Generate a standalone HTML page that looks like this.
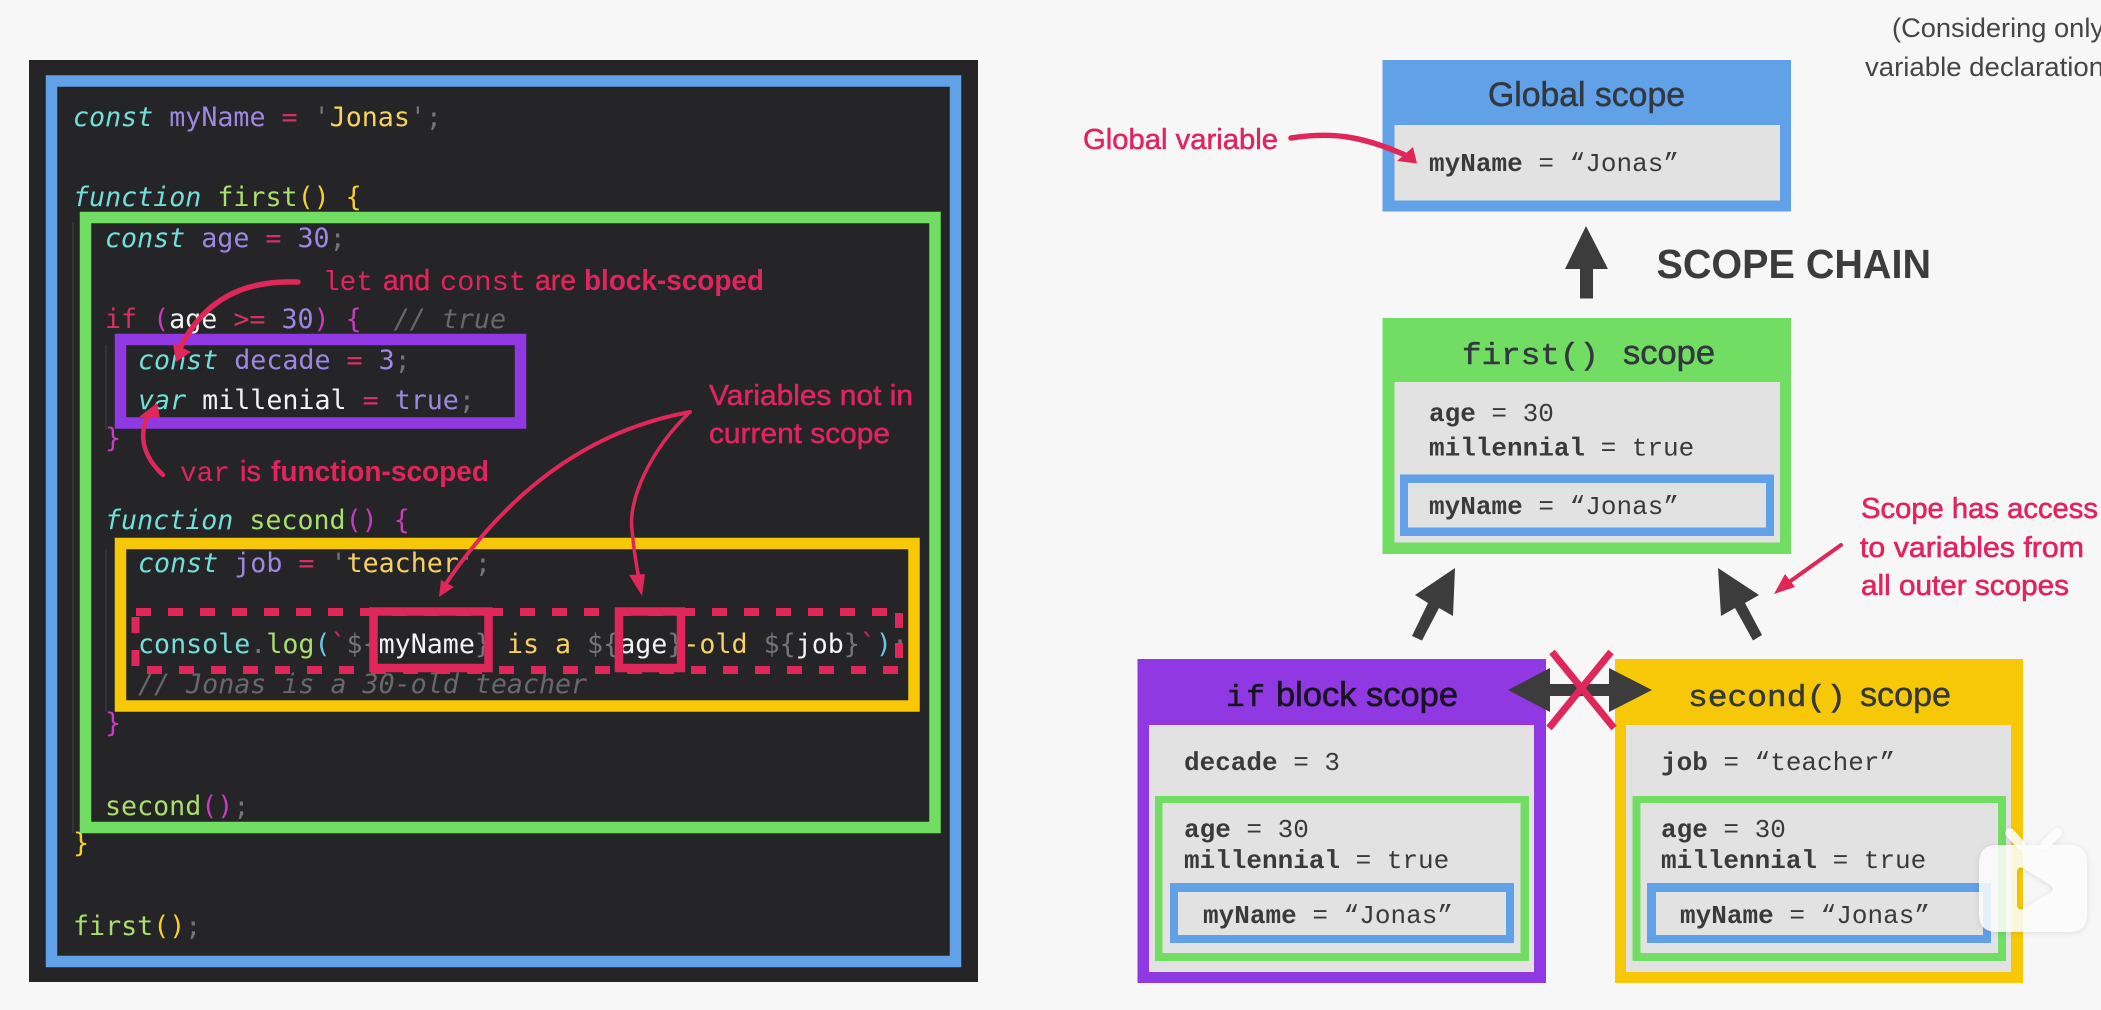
<!DOCTYPE html>
<html><head><meta charset="utf-8"><style>
html,body{margin:0;padding:0;background:#f7f7f7;width:2101px;height:1010px;overflow:hidden}
svg{display:block}
text{white-space:pre}
.c{font-family:"DejaVu Sans Mono","Liberation Mono",monospace;font-size:26.65px}
.m{font-family:"Liberation Mono","DejaVu Sans Mono",monospace;font-size:26px;fill:#3a3a3a}
.m .b{font-weight:bold}
.s{font-family:"Liberation Sans",sans-serif}
.r{fill:#e0245e;font-size:28.5px}
.lm{font-family:"Liberation Mono",monospace;font-size:28px}
.b{font-weight:bold}
.k{fill:#72e0da;font-style:italic}.n{fill:#9c88e2}.o{fill:#d43262}.g{fill:#757575}.y{fill:#f7d262}.f{fill:#a9df6c}.w{fill:#f4f4f4}.p{fill:#c93bc0}.h{fill:#686868;font-style:italic}.u{fill:#72e0da}.l{fill:#66c6e8}.q{fill:#e0245e}.gy{fill:#f9cf2f}
</style></head><body>
<svg width="2101" height="1010" viewBox="0 0 2101 1010" xmlns="http://www.w3.org/2000/svg">
<rect width="2101" height="1010" fill="#f7f7f7"/>
<rect x="29" y="60" width="949" height="922" fill="#252527"/>
<path d="M73 222V833M106 345V430M106 549V712" stroke="#3a3a3c" stroke-width="1.5" fill="none"/>

<g class="c">
<text x="73" y="126"><tspan class="k">const</tspan> <tspan class="n">myName</tspan> <tspan class="o">=</tspan> <tspan class="g">'</tspan><tspan class="y">Jonas</tspan><tspan class="g">';</tspan></text>
<text x="73" y="206"><tspan class="k">function</tspan> <tspan class="f">first</tspan><tspan class="gy">() {</tspan></text>
<text x="105" y="247"><tspan class="k">const</tspan> <tspan class="n">age</tspan> <tspan class="o">=</tspan> <tspan class="n">30</tspan><tspan class="g">;</tspan></text>
<text x="105" y="328"><tspan class="o">if</tspan> <tspan class="p">(</tspan><tspan class="w">age</tspan> <tspan class="o">&gt;=</tspan> <tspan class="n">30</tspan><tspan class="p">) {</tspan>  <tspan class="h">// true</tspan></text>
<text x="138" y="369"><tspan class="k">const</tspan> <tspan class="n">decade</tspan> <tspan class="o">=</tspan> <tspan class="n">3</tspan><tspan class="g">;</tspan></text>
<text x="138" y="409"><tspan class="k">var</tspan> <tspan class="w">millenial</tspan> <tspan class="o">=</tspan> <tspan class="n">true</tspan><tspan class="g">;</tspan></text>
<text x="105" y="447" class="p">}</text>
<text x="105" y="529"><tspan class="k">function</tspan> <tspan class="f">second</tspan><tspan class="p">() {</tspan></text>
<text x="138" y="572"><tspan class="k">const</tspan> <tspan class="n">job</tspan> <tspan class="o">=</tspan> <tspan class="g">'</tspan><tspan class="y">teacher</tspan><tspan class="g">';</tspan></text>
<text x="138" y="653"><tspan class="u">console</tspan><tspan class="g">.</tspan><tspan class="f">log</tspan><tspan class="l">(</tspan><tspan class="q">`</tspan><tspan class="g">${</tspan><tspan class="w">myName</tspan><tspan class="g">}</tspan><tspan class="y"> is a </tspan><tspan class="g">${</tspan><tspan class="w">age</tspan><tspan class="g">}</tspan><tspan class="y">-old </tspan><tspan class="g">${</tspan><tspan class="w">job</tspan><tspan class="g">}</tspan><tspan class="q">`</tspan><tspan class="l">)</tspan><tspan class="g">;</tspan></text>
<text x="138" y="693" class="h">// Jonas is a 30-old teacher</text>
<text x="105" y="732" class="p">}</text>
<text x="105" y="815"><tspan class="f">second</tspan><tspan class="p">()</tspan><tspan class="g">;</tspan></text>
<text x="73" y="852" class="gy">}</text>
<text x="73" y="935"><tspan class="f">first</tspan><tspan class="gy">()</tspan><tspan class="g">;</tspan></text>
</g>

<g fill="none">
<rect x="51.5" y="81" width="904" height="880.5" stroke="#60a1e8" stroke-width="11.5"/>
<rect x="85.5" y="217.5" width="849.5" height="610" stroke="#72dd63" stroke-width="11.5"/>
<rect x="120.5" y="339.5" width="400" height="83.5" stroke="#9039e3" stroke-width="11.5"/>
<rect x="120.5" y="543.5" width="793.5" height="162.5" stroke="#f7c808" stroke-width="11.5"/>
<g stroke="#e0275a" stroke-width="8">
<path d="M136 612H902" stroke-dasharray="15 17"/>
<path d="M147 670H902" stroke-dasharray="15 17"/>
<path d="M135.5 617V666" stroke-dasharray="16 17"/>
<path d="M899 613V659" stroke-dasharray="15 15"/>
</g>
<rect x="373.5" y="611.5" width="115" height="56.5" stroke="#e0275a" stroke-width="8.5"/>
<rect x="619" y="611.5" width="62" height="56.5" stroke="#e0275a" stroke-width="8.5"/>
</g>

<!-- red labels left -->
<g class="s r">
<text x="323" y="290" class="lm" textLength="50" lengthAdjust="spacingAndGlyphs">let</text>
<text x="383" y="290" textLength="47" lengthAdjust="spacingAndGlyphs" stroke="#e0245e" stroke-width=".4">and</text>
<text x="440" y="290" class="lm" textLength="86" lengthAdjust="spacingAndGlyphs">const</text>
<text x="535" y="290" textLength="41" lengthAdjust="spacingAndGlyphs" stroke="#e0245e" stroke-width=".4">are</text>
<text x="584" y="290" textLength="180" lengthAdjust="spacingAndGlyphs" class="b">block-scoped</text>
<text x="180" y="481" class="lm" textLength="50" lengthAdjust="spacingAndGlyphs">var</text>
<text x="240" y="481" textLength="21" lengthAdjust="spacingAndGlyphs" stroke="#e0245e" stroke-width=".4">is</text>
<text x="271" y="481" textLength="218" lengthAdjust="spacingAndGlyphs" class="b">function-scoped</text>
<text x="709" y="405" textLength="204" lengthAdjust="spacingAndGlyphs" stroke="#e0245e" stroke-width=".5">Variables not in</text>
<text x="709" y="443" textLength="181" lengthAdjust="spacingAndGlyphs" stroke="#e0245e" stroke-width=".5">current scope</text>
</g>

<!-- top note -->
<g class="s" fill="#454545" font-size="26.5">
<text x="1892" y="37" textLength="212" lengthAdjust="spacingAndGlyphs">(Considering only</text>
<text x="1865" y="76" textLength="262" lengthAdjust="spacingAndGlyphs">variable declarations)</text>
</g>

<!-- Global scope -->
<rect x="1382.5" y="60" width="408.5" height="151.5" fill="#60a1e8"/>
<rect x="1394.5" y="125" width="385.5" height="75.5" fill="#e2e2e2"/>
<text class="s" x="1488" y="106" font-size="34" fill="#33383f" stroke="#33383f" stroke-width=".5" textLength="197" lengthAdjust="spacingAndGlyphs">Global scope</text>
<text class="m" x="1429" y="171" textLength="250" lengthAdjust="spacing"><tspan class="b">myName</tspan> = “Jonas”</text>
<text class="s r" x="1083" y="149" textLength="195" lengthAdjust="spacingAndGlyphs" stroke="#e0245e" stroke-width=".5">Global variable</text>

<!-- scope chain -->
<polygon points="1586,226 1608,269 1593,269 1593,298.5 1580,298.5 1580,269 1565,269" fill="#3c3c3c"/>
<text class="s b" x="1656.5" y="278" font-size="41" fill="#3c3c3c" textLength="274.5" lengthAdjust="spacingAndGlyphs">SCOPE CHAIN</text>

<!-- first scope -->
<rect x="1382.5" y="318" width="408.5" height="236" fill="#72dd63"/>
<rect x="1394.5" y="382" width="385.5" height="160.5" fill="#e2e2e2"/>
<rect x="1400" y="474.5" width="374" height="61.5" fill="#60a1e8"/>
<rect x="1408" y="483" width="358" height="44.5" fill="#e2e2e2"/>
<text class="m" x="1462" y="364" style="font-size:31px;fill:#33383f" textLength="137" lengthAdjust="spacingAndGlyphs" stroke="#33383f" stroke-width=".5">first()</text>
<text class="s" x="1623" y="364" font-size="34" fill="#33383f" stroke="#33383f" stroke-width=".5" textLength="92" lengthAdjust="spacingAndGlyphs">scope</text>
<text class="m" x="1429" y="421"><tspan class="b">age</tspan> = 30</text>
<text class="m" x="1429" y="455.5"><tspan class="b">millennial</tspan> = true</text>
<text class="m" x="1429" y="514" textLength="250" lengthAdjust="spacing"><tspan class="b">myName</tspan> = “Jonas”</text>

<g class="s r" stroke="#e0245e" stroke-width=".6">
<text x="1861" y="518" textLength="237" lengthAdjust="spacingAndGlyphs">Scope has access</text>
<text x="1860" y="557" textLength="224" lengthAdjust="spacingAndGlyphs">to variables from</text>
<text x="1861" y="595" textLength="208" lengthAdjust="spacingAndGlyphs">all outer scopes</text>
</g>

<!-- dark arrows -->
<polygon points="1455,568 1415,595 1428,603 1412,636 1422,640.5 1439,608 1453,616" fill="#3c3c3c"/>
<polygon points="1718,568 1759,595 1745,603 1762,635 1753,640.5 1735,608 1721,616" fill="#3c3c3c"/>

<!-- if block -->
<rect x="1137.5" y="659" width="408.5" height="324" fill="#9039e3"/>
<rect x="1149" y="725" width="385" height="247" fill="#e2e2e2"/>
<rect x="1155" y="796" width="374" height="165" fill="#72dd63"/>
<rect x="1162.5" y="803" width="358" height="150" fill="#e2e2e2"/>
<rect x="1170" y="883" width="344" height="60" fill="#60a1e8"/>
<rect x="1178" y="892" width="328" height="43" fill="#e2e2e2"/>
<text class="m" x="1226" y="706" style="font-size:31px;fill:#17131f" textLength="39" lengthAdjust="spacing" stroke="#17131f" stroke-width=".5">if</text>
<text class="s" x="1276" y="706" font-size="34" fill="#17131f" stroke="#17131f" stroke-width=".6" textLength="182" lengthAdjust="spacingAndGlyphs">block scope</text>
<text class="m" x="1184" y="770"><tspan class="b">decade</tspan> = 3</text>
<text class="m" x="1184" y="837"><tspan class="b">age</tspan> = 30</text>
<text class="m" x="1184" y="868"><tspan class="b">millennial</tspan> = true</text>
<text class="m" x="1203" y="923" textLength="250" lengthAdjust="spacing"><tspan class="b">myName</tspan> = “Jonas”</text>

<!-- second block -->
<rect x="1615" y="659" width="408" height="324" fill="#f7c808"/>
<rect x="1626" y="725" width="385" height="247" fill="#e2e2e2"/>
<rect x="1632.5" y="796" width="373.5" height="165" fill="#72dd63"/>
<rect x="1640.5" y="803" width="357.5" height="150" fill="#e2e2e2"/>
<rect x="1647" y="883" width="344" height="60" fill="#60a1e8"/>
<rect x="1656" y="892" width="327" height="43" fill="#e2e2e2"/>
<text class="m" x="1688" y="706" style="font-size:31px;fill:#33383f" textLength="158" lengthAdjust="spacingAndGlyphs" stroke="#33383f" stroke-width=".5">second()</text>
<text class="s" x="1860" y="706" font-size="34" fill="#33383f" stroke="#33383f" stroke-width=".4" textLength="91" lengthAdjust="spacingAndGlyphs">scope</text>
<text class="m" x="1661" y="770"><tspan class="b">job</tspan> = “teacher”</text>
<text class="m" x="1661" y="837"><tspan class="b">age</tspan> = 30</text>
<text class="m" x="1661" y="868"><tspan class="b">millennial</tspan> = true</text>
<text class="m" x="1680" y="923" textLength="250" lengthAdjust="spacing"><tspan class="b">myName</tspan> = “Jonas”</text>

<!-- double arrow and cross -->
<polygon points="1508,690 1550,668 1550,684 1609,684 1609,668 1652,690 1609,712 1609,696 1550,696 1550,712" fill="#3c3c3c"/>
<path d="M1552 652L1614 728M1611 652L1549 728" stroke="#e0275a" stroke-width="7" fill="none"/>

<!-- red arrows -->
<g fill="none" stroke="#e0275a" stroke-linecap="round">
<path d="M298 282C245 280 205 298 180 348" stroke-width="5.5"/>
<path d="M163 475C147 460 135 438 150 412" stroke-width="4.5"/>
<path d="M690 412C590 430 510 490 447 582" stroke-width="4"/>
<path d="M690 412C650 450 628 500 632 530C634 550 636 565 639 578" stroke-width="3.5"/>
<path d="M1291 138C1330 132 1360 135 1405 155" stroke-width="5.5"/>
<path d="M1841 545L1785 585" stroke-width="4"/>
</g>
<g fill="#e0275a">
<polygon points="176,362 173,343 191,352"/>
<polygon points="157,403 139,417 160,418"/>
<polygon points="439,597 441,580 454,587"/>
<polygon points="642,596 629,575 645,574"/>
<polygon points="1417,163.5 1397,161 1413,147"/>
<polygon points="1774,594 1785,574 1795,587"/>
</g>

<!-- logo -->
<g fill="#fff" fill-opacity=".86" style="filter:drop-shadow(0 1px 3px rgba(0,0,0,.12))">
<path fill-rule="evenodd" d="M1997 845H2069Q2087 845 2087 863V914Q2087 932 2069 932H1997Q1979 932 1979 914V863Q1979 845 1997 845ZM2023 868Q2017 866 2017 873V904Q2017 911 2023 909L2050 893Q2056 889 2050 885Z"/>
<path d="M2010 833L2021 845" stroke="#fff" stroke-opacity=".86" stroke-width="9.5" stroke-linecap="round"/>
<path d="M2057 833L2045 845" stroke="#fff" stroke-opacity=".86" stroke-width="9.5" stroke-linecap="round"/>
</g>
</svg>
</body></html>
